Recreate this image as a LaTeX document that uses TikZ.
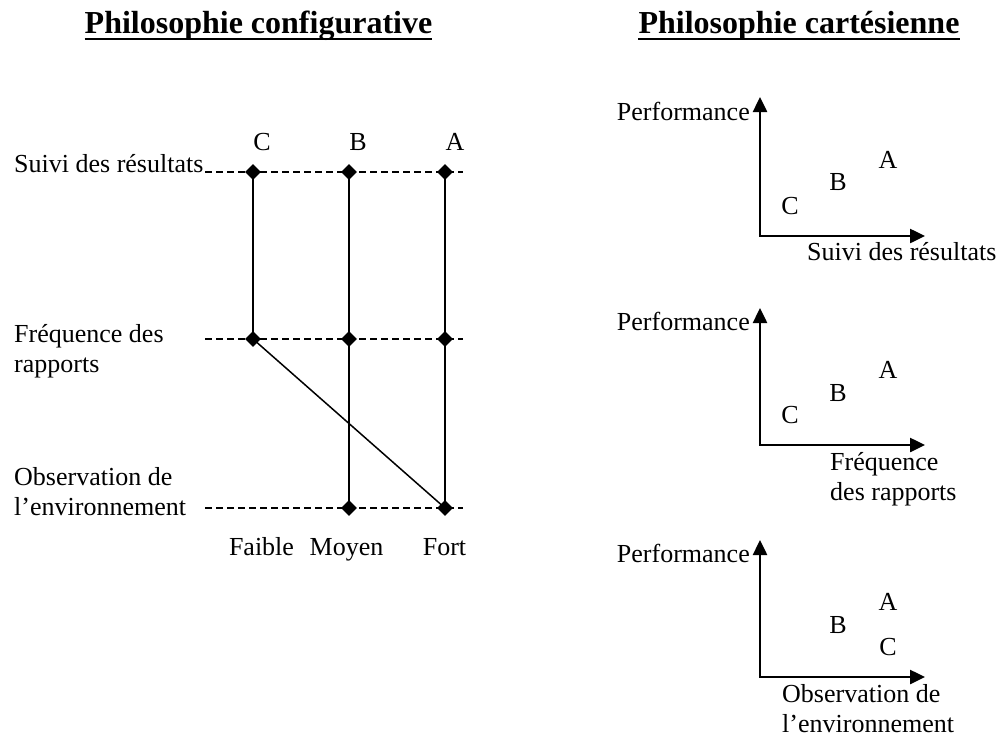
\documentclass[tikz,border=0pt]{standalone}
\usepackage{fontspec}
\setmainfont{Liberation Serif}
\usepackage{tikz}
\usetikzlibrary{arrows.meta, shapes.geometric}

\tikzset{
    txt/.style={font=\fontsize{26}{30}\selectfont, inner sep=0pt},
    ttl/.style={font=\bfseries\fontsize{32}{36}\selectfont, inner sep=0pt},
    pt/.style={diamond, fill=black, inner sep=0pt, minimum size=16pt},
    level/.style={dashed, dash pattern=on 7pt off 4pt, line width=1.5pt},
    axis/.style={line width=2.5pt, {Triangle[length=15pt,width=14pt]}-{Triangle[length=15pt,width=14pt]}}
}

\begin{document}
\begin{tikzpicture}[x=1pt, y=-1pt]
        \useasboundingbox (0, 0) rectangle (1001, 736);
        % titres
        \node[ttl, anchor=base] (t1) at (258.5, 33) {Philosophie configurative};
        \node[ttl, anchor=base] (t2) at (799, 33) {Philosophie cartésienne};
        \draw[line width=2.5pt] ([yshift=-6pt]t1.base west) -- ([yshift=-6pt]t1.base east);
        \draw[line width=2.5pt] ([yshift=-6pt]t2.base west) -- ([yshift=-6pt]t2.base east);

        % philosophie configurative
        \node[txt, anchor=base west] (suivi) at (14, 172) {Suivi des résultats};
        \node[txt, anchor=north west, align=left] (freq) at (14, 324) {Fréquence des\\rapports};
        \node[txt, anchor=north west, align=left] (obs) at (14, 467) {Observation de\\l’environnement};
        \coordinate (s0) at (205, 172);
        \coordinate (s1) at (463, 172);
        \coordinate (f0) at (205, 339);
        \coordinate (f1) at (463, 339);
        \coordinate (o0) at (205, 508);
        \coordinate (o1) at (463, 508);
        \draw[level] (s0) -- (s1);
        \draw[level] (f0) -- (f1);
        \draw[level] (o0) -- (o1);
        \node[txt] (lc) at (262, 142) {C};
        \node[txt] (lb) at (358, 142) {B};
        \node[txt] (la) at (455, 142) {A};
        \node[pt] (c1) at (253, 172) {};
        \node[pt] (b1) at (349, 172) {};
        \node[pt] (a1) at (445, 172) {};
        \node[pt] (c2) at (253, 339) {};
        \node[pt] (b2) at (349, 339) {};
        \node[pt] (a2) at (445, 339) {};
        \node[pt] (b3) at (349, 508) {};
        \node[pt] (a3) at (445, 508) {};
        \draw[line width=2pt] (c1.center) -- (c2.center);
        \draw[line width=2pt] (b1.center) -- (b3.center);
        \draw[line width=2pt] (a1.center) -- (a3.center);
        \draw[line width=1.5pt] (c2.center) -- (a3.center);
        \node[txt, anchor=base] (faible) at (261.5, 555) {Faible};
        \node[txt, anchor=base] (moyen) at (346.5, 555) {Moyen};
        \node[txt, anchor=base] (fort) at (444.5, 555) {Fort};

        % philosophie cartesienne
        \coordinate (or1) at (760, 236);
        \coordinate (y1) at (760, 97);
        \coordinate (x1) at (925, 236);
        \draw[axis] (y1) -- (or1) -- (x1);
        \node[txt, anchor=base east] (p1) at (750, 120) {Performance};
        \node[txt, anchor=base west] (ax1) at (807, 260) {Suivi des résultats};
        \node[txt] (a4) at (888, 160) {A};
        \node[txt] (b4) at (838, 182) {B};
        \node[txt] (c4) at (790, 206) {C};

        \coordinate (or2) at (760, 445);
        \coordinate (y2) at (760, 308);
        \coordinate (x2) at (925, 445);
        \draw[axis] (y2) -- (or2) -- (x2);
        \node[txt, anchor=base east] (p2) at (750, 330) {Performance};
        \node[txt, anchor=north west, align=left] (ax2) at (830, 452) {Fréquence\\des rapports};
        \node[txt] (a5) at (888, 370) {A};
        \node[txt] (b5) at (838, 393) {B};
        \node[txt] (c5) at (790, 415) {C};

        \coordinate (or3) at (760, 677);
        \coordinate (y3) at (760, 540);
        \coordinate (x3) at (925, 677);
        \draw[axis] (y3) -- (or3) -- (x3);
        \node[txt, anchor=base east] (p3) at (750, 562) {Performance};
        \node[txt, anchor=north west, align=left] (ax3) at (782, 684) {Observation de\\l’environnement};
        \node[txt] (a6) at (888, 602) {A};
        \node[txt] (b6) at (838, 625) {B};
        \node[txt] (c6) at (888, 647) {C};
    \end{tikzpicture}
\end{document}
